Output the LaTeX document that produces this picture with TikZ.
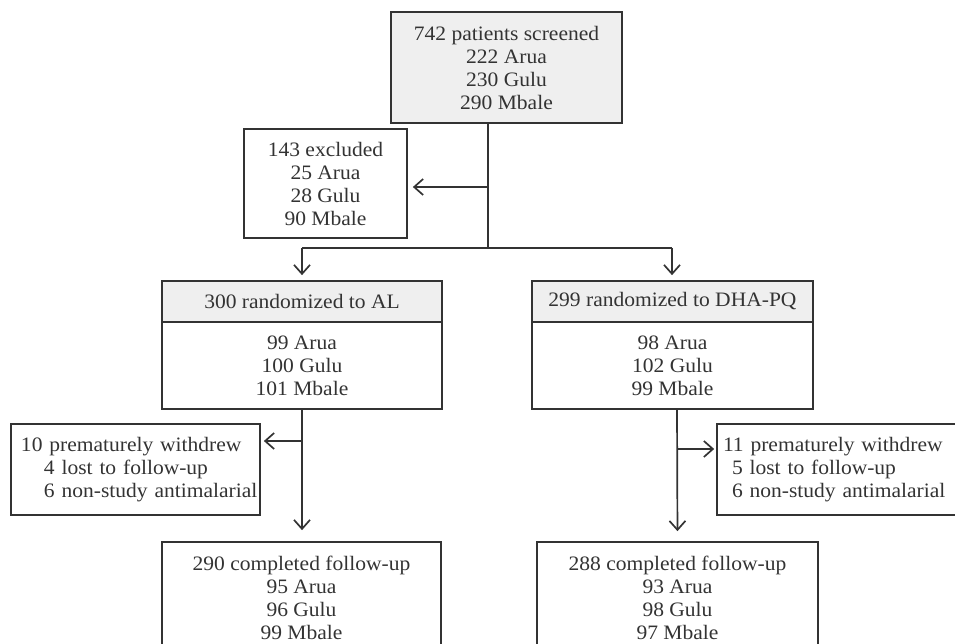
\documentclass[tikz,border=0pt]{standalone}
\usepackage{fontspec}
\setmainfont[FakeStretch=1.05]{Liberation Serif}
\usetikzlibrary{arrows.meta}
\hyphenpenalty=10000
\exhyphenpenalty=10000
\definecolor{ink}{HTML}{333333}
\definecolor{hdr}{HTML}{EFEFEF}
\tikzset{
  box/.style={draw=ink, line width=1.7pt, rectangle, inner sep=0pt, align=center,
    text=ink, font=\fontsize{20.5}{23}\selectfont},
  lbox/.style={box, align=left},
  conn/.style={draw=ink, line width=1.7pt},
  arr/.style={conn, -{Straight Barb[length=9pt,width=16pt,line width=1.7pt]}}
}
\begin{document}
\begin{tikzpicture}[x=1pt,y=-1pt]
\useasboundingbox (0,0) rectangle (955,644);
\clip (0,0) rectangle (955,644);
% boxes
\node[box, fill=hdr, minimum width=231pt, minimum height=111pt] (top) at (506.5,67.5)
  {742 patients screened\\222 Arua\\230 Gulu\\290 Mbale};
\node[box, minimum width=163pt, minimum height=109pt] (excl) at (325.5,183.5)
  {143 excluded\\25 Arua\\28 Gulu\\90 Mbale};
\node[box, fill=hdr, minimum width=280pt, minimum height=41pt] (alh) at (302,301.5)
  {300 randomized to AL};
\node[box, minimum width=280pt, minimum height=87pt] (alb) at (302,365.5)
  {99 Arua\\100 Gulu\\101 Mbale};
\node[box, fill=hdr, minimum width=281pt, minimum height=41pt] (dhah) at (672.5,301.5)
  {299 randomized to DHA-PQ};
\node[box, minimum width=281pt, minimum height=87pt] (dhab) at (672.5,365.5)
  {98 Arua\\102 Gulu\\99 Mbale};
\node[lbox, minimum width=249pt, minimum height=91pt, text width=247pt] (wdl) at (135.5,469.5)
  {\hspace*{9pt}10 prematurely withdrew\\\hspace*{32pt}4 lost to follow-up\\\hspace*{32pt}6 non-study antimalarial};
\node[lbox, minimum width=262pt, minimum height=91pt, text width=250pt] (wdr) at (848,469.5)
  {11 prematurely withdrew\\\hspace*{9pt}5 lost to follow-up\\\hspace*{9pt}6 non-study antimalarial};
\node[box, minimum width=279pt, minimum height=112pt] (cfl) at (301.5,598)
  {290 completed follow-up\\95 Arua\\96 Gulu\\99 Mbale};
\node[box, minimum width=281pt, minimum height=112pt] (cfr) at (677.5,598)
  {288 completed follow-up\\93 Arua\\98 Gulu\\97 Mbale};
% junctions
\coordinate (j1) at (488,248);
\coordinate (ex) at (488,187);
\coordinate (jl) at (302,248);
\coordinate (jr) at (672,248);
\coordinate (wl) at (302,441);
\coordinate (dv) at (677,409);
\coordinate (wr) at (677,449);
% connectors
\draw[conn] (top.south -| j1) -- (j1);
\draw[arr, shorten >=5pt] (ex) -- (ex -| excl.east);
\draw[conn] (jl) -- (jr);
\draw[arr, shorten >=5pt] (jl) -- (alh.north);
\draw[arr, shorten >=5pt] (jr) -- (jr |- dhah.north);
\draw[arr, shorten >=11pt] (alb.south) -- (cfl.north -| alb.south);
\draw[arr, shorten >=3pt] (wl) -- (wl -| wdl.east);
\draw[arr, shorten >=10pt] (dv) -- (cfr.north);
\draw[arr, shorten >=2pt] (wr) -- (wr -| wdr.west);
\end{tikzpicture}
\end{document}
